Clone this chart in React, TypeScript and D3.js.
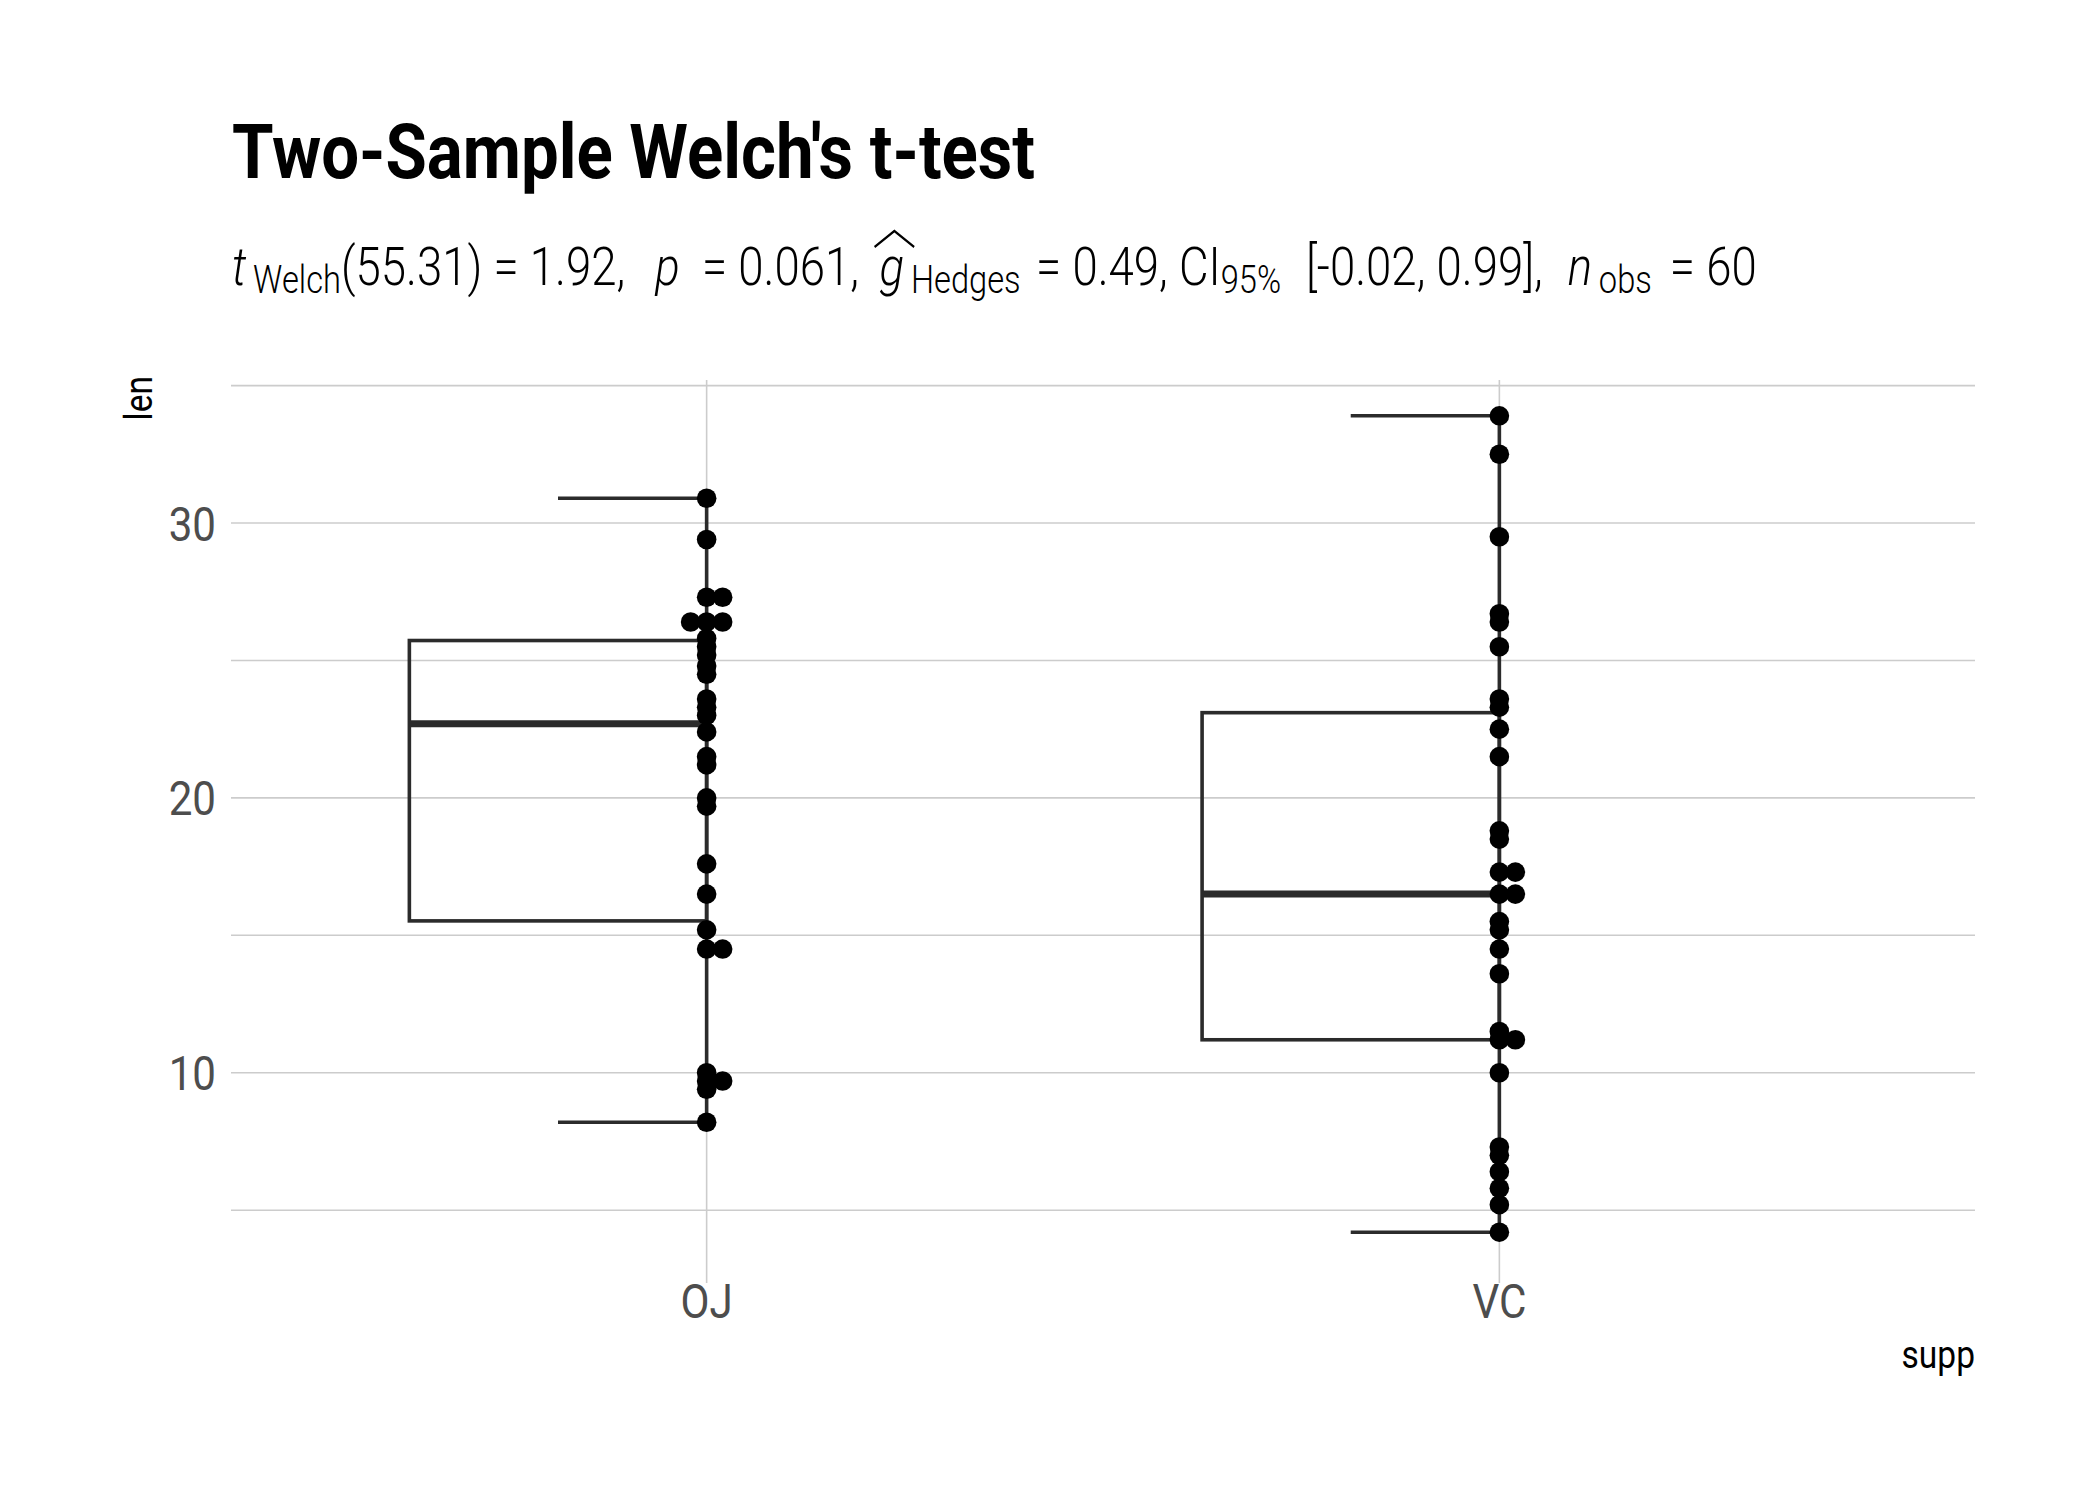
import { useLayoutEffect, useRef, useState } from "react";
import * as d3 from "d3";

// ToothGrowth: len by supp
const groups = ["OJ", "VC"];
const ojLen = [
  15.2, 21.5, 17.6, 9.7, 14.5, 10, 8.2, 9.4, 16.5, 9.7, 19.7, 23.3, 23.6, 26.4, 20,
  25.2, 25.8, 21.2, 14.5, 27.3, 25.5, 26.4, 22.4, 24.5, 24.8, 30.9, 26.4, 27.3, 29.4, 23,
];
const vcLen = [
  4.2, 11.5, 7.3, 5.8, 6.4, 10, 11.2, 11.2, 5.2, 7, 16.5, 16.5, 15.2, 17.3, 22.5,
  17.3, 13.6, 14.5, 18.8, 15.5, 23.6, 18.5, 33.9, 25.5, 26.4, 32.5, 26.7, 21.5, 23.3, 29.5,
];
const yTicks = [10, 20, 30];
const yMinor = [5, 15, 25, 35];

const W = 2100;
const H = 1500;
const margin = { left: 231, right: 125, top: 375, bottom: 227 };
const SX = 0.86; // fake condensed face
const FONT = "Roboto, 'Open Sans', sans-serif";
const LINE = "#2b2b2b";

const CondText = ({ x, y, sx = SX, children, ...rest }: any) => (
  <g transform={`translate(${x},${y}) scale(${sx},1)`}>
    <text {...rest}>{children}</text>
  </g>
);

export default function App() {
  const all = [...ojLen, ...vcLen];
  const ext = d3.extent(all) as [number, number];
  const pad = (ext[1] - ext[0]) * 0.05;

  const x = d3
    .scalePoint<string>()
    .domain(groups)
    .range([margin.left, W - margin.right])
    .padding(0.6);
  const y = d3
    .scaleLinear()
    .domain([ext[0] - pad, ext[1] + pad])
    .range([H - margin.bottom, margin.top]);
  const step = x.step();

  const stats = [ojLen, vcLen].map((vals, i) => {
    const s = [...vals].sort(d3.ascending);
    const q1 = d3.quantile(s, 0.25)!;
    const med = d3.quantile(s, 0.5)!;
    const q3 = d3.quantile(s, 0.75)!;
    const iqr = q3 - q1;
    const lo = d3.min(s.filter((v) => v >= q1 - 1.5 * iqr))!;
    const hi = d3.max(s.filter((v) => v <= q3 + 1.5 * iqr))!;
    // dodge repeated values sideways
    const seen = new Map<number, number>();
    const pts = vals.map((v) => {
      const k = seen.get(v) || 0;
      seen.set(v, k + 1);
      const off = k === 0 ? 0 : k % 2 === 1 ? 1 : -1;
      return { v, off };
    });
    return { key: groups[i], q1, med, q3, lo, hi, pts };
  });

  const gRef = useRef<SVGTSpanElement>(null);
  const [hat, setHat] = useState<{ x: number; w: number } | null>(null);
  useLayoutEffect(() => {
    const el: any = gRef.current;
    if (el && el.getExtentOfChar) {
      const b = el.getExtentOfChar(0);
      setHat({ x: b.x, w: b.width });
    }
  }, []);

  const subSize = 38;
  const mainSize = 53;
  const [y0, y1] = y.range();

  return (
    <svg
      width={W}
      height={H}
      style={{ position: "absolute", left: 0, top: 0, background: "#fff" }}
      fontFamily={FONT}
    >
      <CondText x={232} y={178} sx={0.883} fontSize={76} fontWeight={700} fill="#000">
        Two-Sample Welch's t-test
      </CondText>

      <g transform={`translate(232,285) scale(${SX},1)`}>
        <text fontSize={mainSize} fontWeight={300} fill="#000" style={{ whiteSpace: "pre" }}>
          <tspan fontStyle="italic">t</tspan>
          <tspan fontSize={subSize} dx={8} dy={8}>Welch</tspan>
          <tspan dy={-8}>(55.31) = 1.92, </tspan>
          <tspan fontStyle="italic" dx={22}>p</tspan>
          <tspan>{"  = 0.061, "}</tspan>
          <tspan fontStyle="italic" ref={gRef} dx={11}>g</tspan>
          <tspan fontSize={subSize} dx={8} dy={8}>Hedges</tspan>
          <tspan dy={-8} dx={5}>{" = 0.49, CI"}</tspan>
          <tspan fontSize={subSize} dy={8}>95%</tspan>
          <tspan dy={-8} dx={16}>{" [-0.02, 0.99], "}</tspan>
          <tspan fontStyle="italic" dx={16}>n</tspan>
          <tspan fontSize={subSize} dx={8} dy={8}>obs</tspan>
          <tspan dy={-8} dx={8}>{" = 60"}</tspan>
        </text>
        {hat && (
          <path
            d={`M${hat.x + hat.w / 2 + 3 - 23},${-38} L${hat.x + hat.w / 2 + 3},${-54} L${hat.x + hat.w / 2 + 3 + 23},${-38}`}
            fill="none"
            stroke="#000"
            strokeWidth={2.4}
          />
        )}
      </g>

      {/* grid */}
      <g stroke="#cccccc" strokeWidth={1.6}>
        {[...yMinor, ...yTicks].map((t) => (
          <line key={`h${t}`} x1={margin.left} x2={W - margin.right} y1={y(t)} y2={y(t)} />
        ))}
        {groups.map((g) => (
          <line key={`v${g}`} x1={x(g)} x2={x(g)} y1={y1 + 5} y2={y0 + 10} />
        ))}
      </g>

      {/* y tick labels */}
      {yTicks.map((t) => (
        <CondText key={t} x={216} y={y(t) + 17.5} fontSize={49} fill="#4d4d4d" textAnchor="end">
          {t}
        </CondText>
      ))}
      {/* x tick labels */}
      {groups.map((g) => (
        <CondText key={g} x={x(g)} y={1318} fontSize={49} fill="#4d4d4d" textAnchor="middle">
          {g}
        </CondText>
      ))}

      <g transform={`translate(151.7,376) rotate(-90) scale(${SX},1)`}>
        <text fontSize={39} fill="#000" textAnchor="end">len</text>
      </g>
      <CondText x={W - margin.right} y={1368} fontSize={39} fill="#000" textAnchor="end">
        supp
      </CondText>

      {/* boxes */}
      {stats.map((s) => {
        const cx = x(s.key)!;
        const bw = step * 0.375;
        const cw = step * 0.1875;
        return (
          <g key={s.key} stroke={LINE} fill="none">
            <rect x={cx - bw} y={y(s.q3)} width={bw} height={y(s.q1) - y(s.q3)} strokeWidth={3.6} />
            <line x1={cx - bw} x2={cx} y1={y(s.med)} y2={y(s.med)} strokeWidth={7} />
            <line x1={cx - cw} x2={cx} y1={y(s.hi)} y2={y(s.hi)} strokeWidth={3.6} />
            <line x1={cx - cw} x2={cx} y1={y(s.lo)} y2={y(s.lo)} strokeWidth={3.6} />
            <line x1={cx} x2={cx} y1={y(s.hi)} y2={y(s.lo)} strokeWidth={3.6} />
          </g>
        );
      })}

      {/* points */}
      {stats.map((s) => (
        <g key={`p${s.key}`} fill="#000">
          {s.pts.map((p, i) => (
            <circle key={i} cx={x(s.key)! + p.off * 16} cy={y(p.v)} r={9.8} />
          ))}
        </g>
      ))}
    </svg>
  );
}
